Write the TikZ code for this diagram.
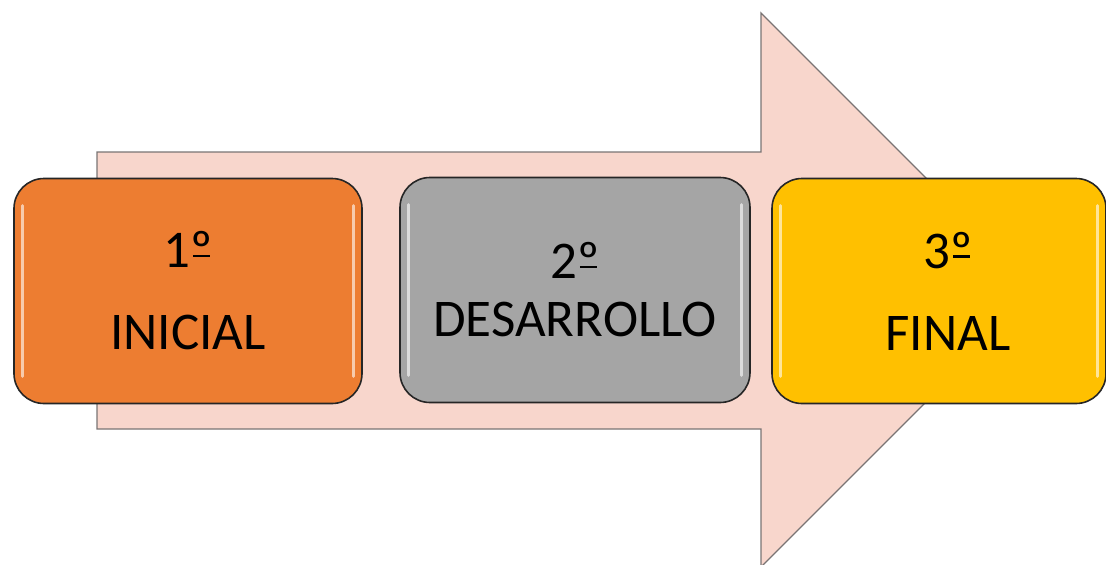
\documentclass[tikz,border=0pt]{standalone}
\usepackage{fontspec}
\setmainfont{Carlito}
\usetikzlibrary{positioning}
\definecolor{arrowfill}{HTML}{F8D6CC}
\definecolor{arrowline}{HTML}{7A7474}
\definecolor{stepone}{HTML}{ED7D31}
\definecolor{steptwo}{HTML}{A5A5A5}
\definecolor{stepthree}{HTML}{FFC000}
% underlined ordinal sign, as Calibri draws it
\newcommand{\ordsign}{\setbox0\hbox{º}\rlap{\hspace{.12\wd0}\rule[.2em]{.76\wd0}{.05em}}\box0}
\tikzset{
  phase/.style={draw=black!85, line width=1.6pt, rounded corners=30pt,
    minimum width=348pt, minimum height=225pt, align=center, inner sep=0pt,
    font=\fontsize{53}{82}\selectfont},
  gloss/.style={white, opacity=.6, line width=3pt, line cap=round}
}

\begin{document}
\begin{tikzpicture}[x=1pt,y=-1pt]
    \useasboundingbox (0,0) rectangle (1106,565);
    %big arrow behind the three phases
    \draw[fill=arrowfill, draw=arrowline, line width=1.3pt]
        (97,152) -- (761,152) -- (761,13) -- (1038,290) -- (761,567) -- (761,429) -- (97,429) -- cycle;
    %the phases
    \node[phase, fill=stepone] (inicial) at (188,291) {1\ordsign\\INICIAL};
    \node[phase, fill=steptwo, minimum width=350pt, font=\fontsize{53}{58}\selectfont] (desarrollo) at (575,290) {2\ordsign\\DESARROLLO};
    \node[phase, fill=stepthree, minimum width=334pt] (final) at (939,291) {};
    \node[font=\fontsize{53}{82}\selectfont, align=center, inner sep=0pt] (finaltext) at ([xshift=9pt]final.center) {3\ordsign\\FINAL};
    %glossy edges
    \foreach \n in {inicial,desarrollo,final}{
        \draw[gloss] ([xshift=9pt,yshift=-28pt]\n.north west) -- ([xshift=9pt,yshift=28pt]\n.south west);
        \draw[gloss] ([xshift=-9pt,yshift=-28pt]\n.north east) -- ([xshift=-9pt,yshift=28pt]\n.south east);
    }
\end{tikzpicture}
\end{document}
